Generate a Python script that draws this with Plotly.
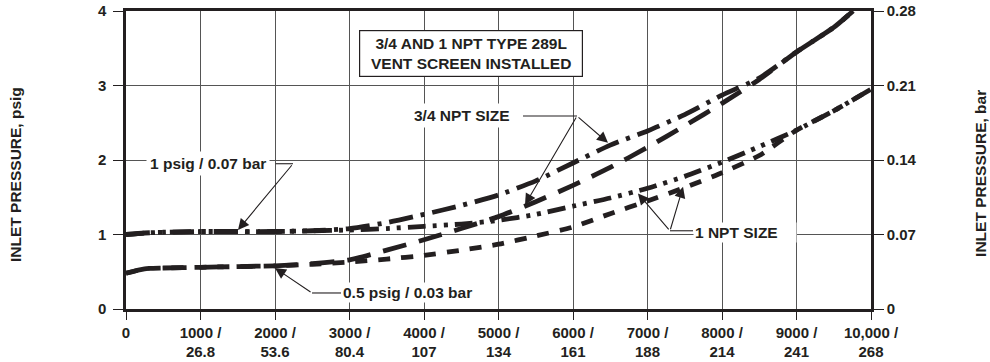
import plotly.graph_objects as go

# ---------------- data ----------------
flow_ticks = [0, 1000, 2000, 3000, 4000, 5000, 6000, 7000, 8000, 9000, 10000]
flow_tick_labels = ["0", "1000 /<br>26.8", "2000 /<br>53.6", "3000 /<br>80.4", "4000 /<br>107",
                    "5000 /<br>134", "6000 /<br>161", "7000 /<br>188", "8000 /<br>214",
                    "9000 /<br>241", "10,000 /<br>268"]
psig_ticks = [0, 1, 2, 3, 4]
bar_ticks = [0, 0.07, 0.14, 0.21, 0.28]
bar_tick_labels = ["0", "0.07", "0.14", "0.21", "0.28"]

# 3/4 NPT, 1 psig setpoint (dash-dot)
x_34_1psig = [0, 250, 500, 1000, 1500, 2000, 2500, 3000, 3500, 4000, 4500, 5000, 5500, 6000,
              6500, 7000, 7500, 8000, 8500, 9000, 9500, 9760]
y_34_1psig = [1.00, 1.02, 1.03, 1.04, 1.04, 1.04, 1.05, 1.08, 1.16, 1.27, 1.39, 1.53, 1.72, 1.96,
              2.20, 2.39, 2.61, 2.87, 3.10, 3.45, 3.78, 4.00]
# 3/4 NPT, 0.5 psig setpoint (long dash)
x_34_05psig = [0, 250, 500, 1000, 1500, 2000, 2500, 3000, 3500, 4000, 4500, 5000, 5500, 6000,
               6500, 7000, 7500, 8000, 8500, 9000, 9500, 9760]
y_34_05psig = [0.48, 0.54, 0.55, 0.56, 0.57, 0.58, 0.61, 0.66, 0.79, 0.93, 1.08, 1.24, 1.44, 1.66,
               1.90, 2.17, 2.46, 2.76, 3.08, 3.45, 3.78, 4.00]
# 1 NPT, 1 psig setpoint (dash-dot-dot)
x_1_1psig = [0, 250, 500, 1000, 2000, 2500, 3000, 3500, 4000, 4500, 5000, 5500, 6000, 6500,
             7000, 7500, 8000, 8500, 9000, 9500, 10000]
y_1_1psig = [1.00, 1.02, 1.03, 1.04, 1.04, 1.05, 1.06, 1.08, 1.11, 1.14, 1.19, 1.27, 1.38, 1.49,
             1.62, 1.78, 1.97, 2.18, 2.40, 2.66, 2.95]
# 1 NPT, 0.5 psig setpoint (short dash)
x_1_05psig = [0, 250, 500, 1000, 2000, 2500, 3000, 3500, 4000, 4500, 5000, 5500, 6000, 6500,
              7000, 7500, 8000, 8500, 9000, 9500, 10000]
y_1_05psig = [0.48, 0.54, 0.55, 0.56, 0.58, 0.60, 0.63, 0.67, 0.72, 0.79, 0.87, 0.98, 1.10, 1.28,
              1.45, 1.63, 1.83, 2.06, 2.40, 2.66, 2.95]

INK = "#231f20"
FAM = "Liberation Sans, Arial, sans-serif"
FONT = dict(family=FAM, size=15.5, color=INK, weight="bold")
TICKFONT = dict(family=FAM, size=15, color=INK, weight="bold")

fig = go.Figure()

series = [
    (x_34_05psig, y_34_05psig, "24px,13px"),
    (x_1_05psig, y_1_05psig, "12px,11px"),
    (x_1_1psig, y_1_1psig, "18px,7px,4px,7px,4px,7px"),
    (x_34_1psig, y_34_1psig, "24px,8px,4px,8px"),
]
for xs, ys, dash in series:
    fig.add_trace(go.Scatter(x=xs, y=ys, mode="lines",
                             line=dict(color=INK, width=4.8, dash=dash, shape="spline", smoothing=0.6),
                             showlegend=False, hoverinfo="skip"))

# invisible trace to carry the right (bar) axis
fig.add_trace(go.Scatter(x=[None], y=[None], yaxis="y2", showlegend=False, hoverinfo="skip"))

axis_common = dict(showgrid=True, gridcolor="#555555", gridwidth=1.2, zeroline=False,
                   showline=True, linecolor=INK, linewidth=2.5,
                   ticks="outside", tickwidth=1.2, tickcolor=INK,
                   tickfont=TICKFONT)

fig.update_layout(
    width=990, height=362,
    margin=dict(l=126, r=119, t=11, b=53, autoexpand=False),
    paper_bgcolor="white", plot_bgcolor="white",
    xaxis=dict(range=[0, 10000], tickvals=flow_ticks, ticktext=flow_tick_labels,
               mirror=True, ticklen=8, **axis_common),
    yaxis=dict(range=[0, 4], tickvals=psig_ticks, ticktext=[str(v) for v in psig_ticks],
               mirror=True, ticklen=10, ticklabelstandoff=4, **axis_common),
    yaxis2=dict(range=[0, 0.28], tickvals=bar_ticks, ticktext=bar_tick_labels, overlaying="y",
                side="right", showgrid=False, zeroline=False, showline=True, linecolor=INK,
                linewidth=2.5, ticks="outside", ticklen=10, tickwidth=1.2, tickcolor=INK,
                tickfont=TICKFONT),
    font=FONT,
)

ann = []
# axis titles
ann.append(dict(text="INLET PRESSURE, psig", xref="paper", yref="paper", x=-0.149, y=0.453,
                xanchor="center", yanchor="middle",
                textangle=-90, showarrow=False, font=FONT))
ann.append(dict(text="INLET PRESSURE, bar", xref="paper", yref="paper", x=1.146, y=0.456,
                xanchor="center", yanchor="middle",
                textangle=-90, showarrow=False, font=FONT))
# title box
ann.append(dict(text="3/4 AND 1 NPT TYPE 289L<br>VENT SCREEN INSTALLED", x=4631, y=3.43,
                xref="x", yref="y", showarrow=False, font=FONT, bgcolor="white",
                bordercolor=INK, borderwidth=1.2, borderpad=2, width=218, height=41))
# labels
ann.append(dict(text="3/4 NPT SIZE", x=4510, y=2.60, xref="x", yref="y", showarrow=False,
                font=FONT, bgcolor="white", borderpad=3))
ann.append(dict(text="1 psig / 0.07 bar", x=1107, y=1.95, xref="x", yref="y", showarrow=False,
                font=FONT, bgcolor="white", borderpad=3))
ann.append(dict(text="0.5 psig / 0.03 bar", x=2886, y=0.215, xref="x", yref="y", xanchor="left",
                showarrow=False, font=FONT, bgcolor="white", borderpad=1))
ann.append(dict(text="1 NPT SIZE\u00a0\u00a0\u00a0\u00a0", x=7611, y=1.03, xref="x", yref="y",
                xanchor="left", showarrow=False, font=FONT, bgcolor="white", borderpad=1))

# arrows: (tip_x, tip_y, tail_x, tail_y)
arrows = [
    (6470, 2.23, 6054, 2.59),
    (5356, 1.40, 6054, 2.59),
    (1503, 1.06, 2242, 1.95),
    (2000, 0.55, 2497, 0.215),
    (6872, 1.55, 7302, 1.05),
    (7477, 1.64, 7302, 1.05),
]
for tx, ty, sx, sy in arrows:
    ann.append(dict(x=tx, y=ty, ax=sx, ay=sy, xref="x", yref="y", axref="x", ayref="y",
                    text="", showarrow=True, arrowhead=2, arrowsize=2, arrowwidth=1.1,
                    arrowcolor=INK))
fig.update_layout(annotations=ann)

# leader lines (horizontal parts)
leaders = [
    (5329, 2.59, 6054, 2.59),
    (2010, 1.95, 2242, 1.95),
    (2497, 0.215, 2886, 0.215),
    (7302, 1.05, 7611, 1.05),
]
for x0, y0, x1, y1 in leaders:
    fig.add_shape(type="line", x0=x0, y0=y0, x1=x1, y1=y1, xref="x", yref="y",
                  line=dict(color=INK, width=1.1))

fig.write_html("out.html")
